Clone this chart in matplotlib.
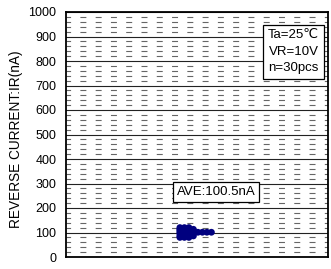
import matplotlib
matplotlib.use("Agg")
import matplotlib.pyplot as plt
from collections import Counter

plt.rcParams["font.family"] = ["Liberation Sans", "DejaVu Sans"]
plt.rcParams["lines.scale_dashes"] = False

# reverse current of 30 samples (nA), read from the dot cluster
ir_values = [80] * 3 + [86] * 4 + [95] * 4 + [101] * 8 + [108] * 4 + [113] * 4 + [120] * 3
y_ticks = [0, 100, 200, 300, 400, 500, 600, 700, 800, 900, 1000]
y_label = "REVERSE CURRENT:IR(nA)"
cond_text = "Ta=25\u2103\nVR=10V\nn=30pcs"
ave_text = "AVE:100.5nA"

fig = plt.figure(figsize=(3.31, 2.69), dpi=100)
ax = fig.add_axes([66 / 331, 12 / 269, 262 / 331, 245 / 269])

# stack identical values side by side like a dot plot
seen = Counter()
xs, ys = [], []
for v in ir_values:
    xs.append(seen[v])
    ys.append(v)
    seen[v] += 1

ax.set_xlim(-25.3, 32.9)
ax.set_ylim(0, 1000)

for y in range(0, 1001, 20):
    if y % 100 == 0:
        ax.axhline(y, color="#222222", lw=0.8, zorder=1)
    else:
        ax.axhline(y, color="#666666", lw=0.8, ls=(1, (4.3, 6.7)), zorder=1)

ax.scatter(xs, ys, s=24, color="#00007f", edgecolors="none", zorder=3)

ax.set_yticks(y_ticks)
ax.set_yticklabels([str(t) for t in y_ticks], fontsize=9)
ax.tick_params(axis="y", length=0, pad=7)
ax.set_xticks([])
ax.set_ylabel(y_label, fontsize=9.8)
ax.yaxis.set_label_coords(-0.165, 0.48)

for s in ax.spines.values():
    s.set_linewidth(1.3)
    s.set_color("black")

box = dict(boxstyle="square,pad=0.35", facecolor="white", edgecolor="black", lw=0.9)
ax.text(0.966, 0.838, cond_text, transform=ax.transAxes, ha="right", va="center",
        fontsize=9.5, linespacing=1.5, bbox=box, zorder=5, multialignment="center")
ax.text(0.572, 0.265, ave_text, transform=ax.transAxes, ha="center", va="center",
        fontsize=9.5, bbox=dict(boxstyle="square,pad=0.3", facecolor="white",
                                edgecolor="black", lw=0.9), zorder=5)

fig.savefig("out.png", dpi=100)
